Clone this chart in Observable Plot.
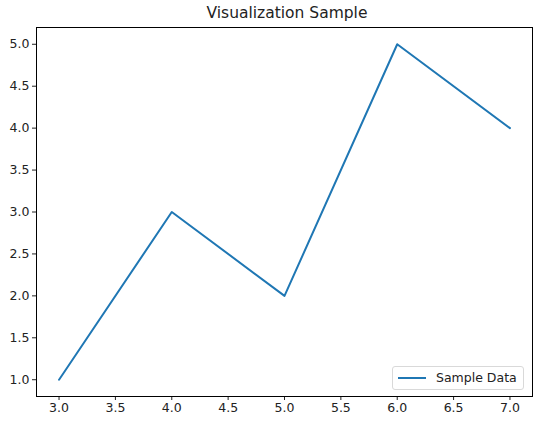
<!DOCTYPE html>
<html>
<head>
<meta charset="utf-8">
<script src="https://cdn.jsdelivr.net/npm/d3@7"></script>
<script src="https://cdn.jsdelivr.net/npm/@observablehq/plot@0.6"></script>
<style>
  html, body { margin: 0; padding: 0; background: #fff; }
  body { width: 538px; height: 424px; overflow: hidden; font-family: "DejaVu Sans", sans-serif; }
  #wrap { position: relative; width: 538px; }
  #title { height: 24px; line-height: 26px; text-align: center; font-size: 15.5px; color: #222; padding-left: 36px; box-sizing: border-box; }
  #legend { position: absolute; left: 392px; top: 366px; width: 132px; height: 24px; border: 1px solid #d9d9d9; border-radius: 3px; background: rgba(255,255,255,0.8); box-sizing: border-box; font-size: 12.5px; color: #222; }
  #legend .sw { position: absolute; left: 5px; top: 10px; width: 28px; height: 2px; background: #1f77b4; }
  #legend .lb { position: absolute; left: 43px; top: 1px; line-height: 20px; }
  #chart svg text { font-size: 12.5px; }
</style>
</head>
<body>
<div id="wrap">
  <div id="title">Visualization Sample</div>
  <div id="chart"></div>
  <div id="legend"><div class="sw"></div><div class="lb">Sample Data</div></div>
</div>
<script>
const xValues = [3, 4, 5, 6, 7];
const yValues = [1, 3, 2, 5, 4];
const seriesName = "Sample Data";
const xTicks = [3.0, 3.5, 4.0, 4.5, 5.0, 5.5, 6.0, 6.5, 7.0];
const yTicks = [1.0, 1.5, 2.0, 2.5, 3.0, 3.5, 4.0, 4.5, 5.0];

const data = xValues.map((x, i) => ({x, y: yValues[i], series: seriesName}));

const chart = Plot.plot({
  width: 538,
  height: 400,
  marginLeft: 36,
  marginRight: 6,
  marginTop: 3,
  marginBottom: 28,
  style: { fontFamily: "'DejaVu Sans', sans-serif", fontSize: "12.5px", color: "#222", background: "#fff" },
  x: { domain: [2.8, 7.2] },
  y: { domain: [0.8, 5.2] },
  marks: [
    Plot.axisX({ ticks: xTicks, tickFormat: d => d.toFixed(1), tickSize: 4, tickPadding: 3, label: null }),
    Plot.axisY({ ticks: yTicks, tickFormat: d => d.toFixed(1), tickSize: 4, tickPadding: 3, label: null }),
    Plot.line(data, { x: "x", y: "y", stroke: "#1f77b4", strokeWidth: 2 }),
    Plot.frame({ stroke: "#000", strokeWidth: 1 })
  ]
});
document.getElementById("chart").appendChild(chart);
</script>
</body>
</html>
